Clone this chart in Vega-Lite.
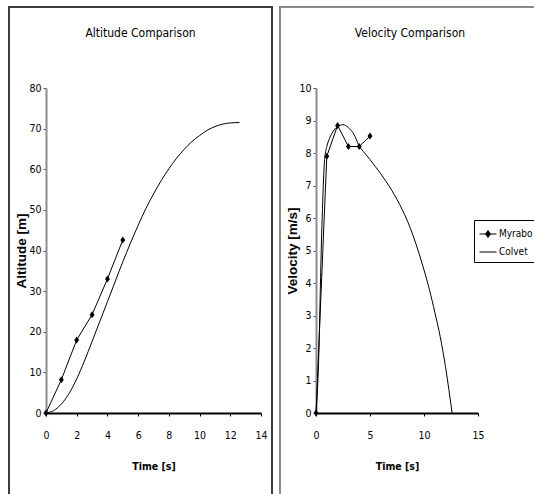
{
  "$schema": "https://vega.github.io/schema/vega-lite/v6.json",
  "padding": {"left": 8, "top": 6, "right": 0, "bottom": 0},
  "spacing": 6,
  "background": "white",
  "config": {
    "view": {"stroke": "#3c3c3c", "strokeWidth": 2},
    "font": "DejaVu Sans Condensed, sans-serif",
    "axis": {
      "grid": false,
      "labelFont": "DejaVu Sans Condensed, sans-serif",
      "labelFontSize": 10.5,
      "labelColor": "black",
      "titleColor": "black",
      "tickSize": 3,
      "labelOverlap": false,
      "labelFlush": false
    },
    "axisX": {
      "domainColor": "black",
      "domainWidth": 2,
      "tickColor": "black",
      "labelPadding": 14,
      "labelAngle": 0,
      "titleFont": "DejaVu Sans Condensed, sans-serif",
      "titleFontSize": 10.5,
      "titleFontWeight": "bold",
      "titleBaseline": "middle",
      "titleY": 53
    },
    "axisY": {
      "domainColor": "#8c8c8c",
      "domainWidth": 2,
      "tickColor": "#555555",
      "labelPadding": 2,
      "titleFont": "Liberation Sans, DejaVu Sans, sans-serif",
      "titleFontSize": 13.5,
      "titleFontWeight": "bold",
      "titleBaseline": "middle",
      "titleAngle": -90
    },
    "title": {
      "font": "DejaVu Sans Condensed, sans-serif",
      "fontSize": 12,
      "fontWeight": "normal",
      "color": "black",
      "baseline": "middle",
      "offset": -33,
      "anchor": "middle"
    },
    "legend": {
      "labelFont": "DejaVu Sans Condensed, sans-serif",
      "labelFontSize": 10,
      "labelColor": "black",
      "strokeColor": "black",
      "fillColor": "white",
      "padding": 5,
      "rowPadding": 3,
      "labelOffset": 2,
      "symbolSize": 289
    }
  },
  "datasets": {
    "altitude": [
      {"time": 0, "value": 0, "series": "Myrabo"},
      {"time": 1, "value": 8.2, "series": "Myrabo"},
      {"time": 2, "value": 18, "series": "Myrabo"},
      {"time": 3, "value": 24.2, "series": "Myrabo"},
      {"time": 4, "value": 33, "series": "Myrabo"},
      {"time": 5, "value": 42.6, "series": "Myrabo"},
      {"time": 0, "value": 0, "series": "Colvet"},
      {"time": 0.5, "value": 0.6, "series": "Colvet"},
      {"time": 1, "value": 2.2, "series": "Colvet"},
      {"time": 1.5, "value": 4.8, "series": "Colvet"},
      {"time": 2, "value": 8.4, "series": "Colvet"},
      {"time": 2.5, "value": 12.8, "series": "Colvet"},
      {"time": 3, "value": 17.6, "series": "Colvet"},
      {"time": 3.5, "value": 22.5, "series": "Colvet"},
      {"time": 4, "value": 27.4, "series": "Colvet"},
      {"time": 4.5, "value": 32.3, "series": "Colvet"},
      {"time": 5, "value": 37.2, "series": "Colvet"},
      {"time": 5.5, "value": 41.8, "series": "Colvet"},
      {"time": 6, "value": 46.2, "series": "Colvet"},
      {"time": 6.5, "value": 50.3, "series": "Colvet"},
      {"time": 7, "value": 53.9, "series": "Colvet"},
      {"time": 7.5, "value": 57.2, "series": "Colvet"},
      {"time": 8, "value": 60.1, "series": "Colvet"},
      {"time": 8.5, "value": 62.7, "series": "Colvet"},
      {"time": 9, "value": 64.9, "series": "Colvet"},
      {"time": 9.5, "value": 66.8, "series": "Colvet"},
      {"time": 10, "value": 68.3, "series": "Colvet"},
      {"time": 10.5, "value": 69.6, "series": "Colvet"},
      {"time": 11, "value": 70.5, "series": "Colvet"},
      {"time": 11.5, "value": 71.1, "series": "Colvet"},
      {"time": 12, "value": 71.4, "series": "Colvet"},
      {"time": 12.6, "value": 71.5, "series": "Colvet"}
    ],
    "velocity": [
      {"time": 0, "value": 0, "series": "Myrabo"},
      {"time": 1, "value": 7.9, "series": "Myrabo"},
      {"time": 2, "value": 8.85, "series": "Myrabo"},
      {"time": 3, "value": 8.2, "series": "Myrabo"},
      {"time": 4, "value": 8.2, "series": "Myrabo"},
      {"time": 5, "value": 8.52, "series": "Myrabo"},
      {"time": 0, "value": 0, "series": "Colvet"},
      {"time": 0.1, "value": 0.5, "series": "Colvet"},
      {"time": 0.2, "value": 1.2, "series": "Colvet"},
      {"time": 0.3, "value": 2.3, "series": "Colvet"},
      {"time": 0.4, "value": 3.8, "series": "Colvet"},
      {"time": 0.5, "value": 5.2, "series": "Colvet"},
      {"time": 0.6, "value": 6.3, "series": "Colvet"},
      {"time": 0.7, "value": 7.2, "series": "Colvet"},
      {"time": 0.8, "value": 7.8, "series": "Colvet"},
      {"time": 0.9, "value": 8.05, "series": "Colvet"},
      {"time": 1, "value": 8.2, "series": "Colvet"},
      {"time": 1.25, "value": 8.45, "series": "Colvet"},
      {"time": 1.5, "value": 8.62, "series": "Colvet"},
      {"time": 1.75, "value": 8.74, "series": "Colvet"},
      {"time": 2, "value": 8.82, "series": "Colvet"},
      {"time": 2.5, "value": 8.87, "series": "Colvet"},
      {"time": 3, "value": 8.78, "series": "Colvet"},
      {"time": 3.5, "value": 8.58, "series": "Colvet"},
      {"time": 4, "value": 8.22, "series": "Colvet"},
      {"time": 4.5, "value": 8.0, "series": "Colvet"},
      {"time": 5, "value": 7.8, "series": "Colvet"},
      {"time": 5.5, "value": 7.58, "series": "Colvet"},
      {"time": 6, "value": 7.36, "series": "Colvet"},
      {"time": 6.5, "value": 7.12, "series": "Colvet"},
      {"time": 7, "value": 6.86, "series": "Colvet"},
      {"time": 7.5, "value": 6.57, "series": "Colvet"},
      {"time": 8, "value": 6.25, "series": "Colvet"},
      {"time": 8.5, "value": 5.88, "series": "Colvet"},
      {"time": 9, "value": 5.45, "series": "Colvet"},
      {"time": 9.5, "value": 4.95, "series": "Colvet"},
      {"time": 10, "value": 4.4, "series": "Colvet"},
      {"time": 10.5, "value": 3.8, "series": "Colvet"},
      {"time": 11, "value": 3.1, "series": "Colvet"},
      {"time": 11.5, "value": 2.35, "series": "Colvet"},
      {"time": 12, "value": 1.4, "series": "Colvet"},
      {"time": 12.6, "value": 0, "series": "Colvet"}
    ]
  },
  "hconcat": [
    {
      "width": 263,
      "height": 489,
      "title": "Altitude Comparison",
      "data": {"name": "altitude"},
      "encoding": {
        "x": {
          "field": "time",
          "type": "quantitative",
          "scale": {"domain": [0, 14], "range": [37, 252], "nice": false, "zero": false},
          "axis": {"title": "Time [s]", "offset": -83, "values": [0, 2, 4, 6, 8, 10, 12, 14]}
        },
        "y": {
          "field": "value",
          "type": "quantitative",
          "scale": {"domain": [0, 80], "range": [406, 81], "nice": false, "zero": false},
          "axis": {"title": "Altitude [m]", "offset": -37, "titleX": -25, "values": [0, 10, 20, 30, 40, 50, 60, 70, 80]}
        }
      },
      "layer": [
        {
          "transform": [{"filter": "datum.series === 'Colvet'"}],
          "mark": {"type": "line", "color": "black", "strokeWidth": 1, "interpolate": "monotone"}
        },
        {
          "transform": [{"filter": "datum.series === 'Myrabo'"}],
          "mark": {"type": "line", "color": "black", "strokeWidth": 1}
        },
        {
          "transform": [{"filter": "datum.series === 'Myrabo'"}],
          "mark": {"type": "point", "shape": "M0,-1L0.7,0L0,1L-0.7,0Z", "size": 49, "filled": true, "color": "black", "opacity": 1}
        }
      ]
    },
    {
      "width": 260,
      "height": 489,
      "view": {"stroke": "#8a8a8a", "strokeWidth": 2},
      "title": "Velocity Comparison",
      "data": {"name": "velocity"},
      "encoding": {
        "x": {
          "field": "time",
          "type": "quantitative",
          "scale": {"domain": [0, 15], "range": [36, 198], "nice": false, "zero": false},
          "axis": {"title": "Time [s]", "offset": -83, "values": [0, 5, 10, 15]}
        },
        "y": {
          "field": "value",
          "type": "quantitative",
          "scale": {"domain": [0, 10], "range": [406, 81], "nice": false, "zero": false},
          "axis": {"title": "Velocity [m/s]", "offset": -36, "titleX": -24, "values": [0, 1, 2, 3, 4, 5, 6, 7, 8, 9, 10]}
        }
      },
      "layer": [
        {
          "transform": [{"filter": "datum.series === 'Colvet'"}],
          "mark": {"type": "line", "strokeWidth": 1, "interpolate": "monotone"},
          "encoding": {
            "color": {
              "field": "series",
              "type": "nominal",
              "scale": {"domain": ["Myrabo", "Colvet"], "range": ["black", "black"]},
              "legend": {
                "title": null,
                "orient": "none",
                "legendX": 465,
                "legendY": 213,
                "direction": "vertical",
                "encode": {
                  "symbols": {
                    "update": {
                      "shape": {"signal": "datum.value === 'Myrabo' ? 'M-1,0H1M0,-0.41L0.29,0L0,0.41L-0.29,0Z' : 'M-1,0H1'"},
                      "fill": {"value": "black"},
                      "stroke": {"value": "black"},
                      "strokeWidth": {"value": 1},
                      "opacity": {"value": 1},
                      "size": {"value": 289}
                    }
                  }
                }
              }
            }
          }
        },
        {
          "transform": [{"filter": "datum.series === 'Myrabo'"}],
          "mark": {"type": "line", "strokeWidth": 1},
          "encoding": {
            "color": {"field": "series", "type": "nominal"}
          }
        },
        {
          "transform": [{"filter": "datum.series === 'Myrabo'"}],
          "mark": {"type": "point", "shape": "M0,-1L0.7,0L0,1L-0.7,0Z", "size": 49, "filled": true, "color": "black", "opacity": 1}
        }
      ]
    }
  ]
}
